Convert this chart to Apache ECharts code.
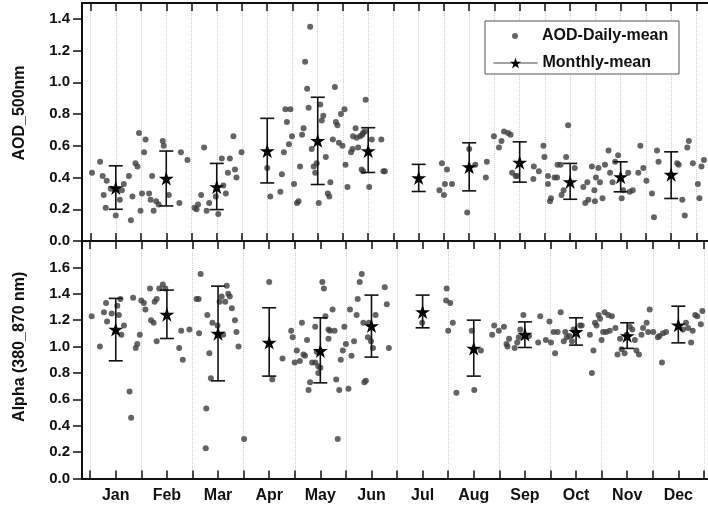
<!DOCTYPE html>
<html>
<head>
<meta charset="utf-8">
<style>
  html, body { margin: 0; padding: 0; background: #fff; }
  #chart { width: 708px; height: 511px; }
</style>
<script src="https://cdn.jsdelivr.net/npm/echarts@6.0.0/dist/echarts.min.js"></script>
</head>
<body>
<div id="chart"></div>
<script>
// month axis
const months = ['Jan', 'Feb', 'Mar', 'Apr', 'May', 'Jun', 'Jul', 'Aug', 'Sep', 'Oct', 'Nov', 'Dec'];
const monthPositions = [1, 2, 3, 4, 5, 6, 7, 8, 9, 10, 11, 12];
const monthTicks = [0.5, 1, 1.5, 2, 2.5, 3, 3.5, 4, 4.5, 5, 5.5, 6, 6.5, 7, 7.5, 8, 8.5, 9, 9.5, 10, 10.5, 11, 11.5, 12, 12.5];
const halfMonthTicks = [0.5, 1.5, 2.5, 3.5, 4.5, 5.5, 6.5, 7.5, 8.5, 9.5, 10.5, 11.5, 12.5];
const aodTicks = [0, 0.2, 0.4, 0.6, 0.8, 1.0, 1.2, 1.4];
const alphaTicks = [0, 0.2, 0.4, 0.6, 0.8, 1.0, 1.2, 1.4, 1.6];

// monthly mean and error bar ends
const aodMean = [0.335, 0.394, 0.341, 0.568, 0.632, 0.568, 0.398, 0.467, 0.495, 0.373, 0.404, 0.419];
const aodLow  = [0.200, 0.221, 0.198, 0.366, 0.356, 0.432, 0.312, 0.316, 0.371, 0.263, 0.310, 0.268];
const aodHigh = [0.474, 0.567, 0.489, 0.773, 0.906, 0.714, 0.483, 0.619, 0.625, 0.489, 0.499, 0.562];
const alphaMean = [1.130, 1.243, 1.099, 1.031, 0.968, 1.157, 1.263, 0.986, 1.092, 1.112, 1.081, 1.162];
const alphaLow  = [0.892, 1.061, 0.740, 0.776, 0.725, 0.920, 1.142, 0.776, 0.993, 1.011, 0.986, 1.028];
const alphaHigh = [1.365, 1.428, 1.458, 1.294, 1.218, 1.390, 1.390, 1.200, 1.187, 1.218, 1.180, 1.306];

// daily values: [month position, value]
const aodDaily = [
  [0.53,0.43],[0.69,0.50],[0.74,0.41],[0.82,0.38],[0.76,0.29],[0.80,0.21],[0.90,0.33],[1.08,0.26],[1.00,0.16],
  [1.16,0.36],[1.12,0.32],[1.26,0.41],[1.30,0.13],[1.33,0.28],[1.39,0.49],[1.43,0.47],[1.46,0.68],[1.59,0.64],
  [1.56,0.56],[1.49,0.19],[1.52,0.30],[1.66,0.30],[1.72,0.41],[1.69,0.26],[1.75,0.19],[1.80,0.25],[1.85,0.23],
  [1.93,0.63],[1.95,0.60],[2.05,0.29],[2.26,0.24],[2.29,0.56],[2.42,0.51],[2.56,0.21],[2.60,0.20],[2.63,0.23],
  [2.75,0.59],[2.69,0.29],[2.80,0.19],[2.85,0.24],[3.03,0.17],[2.98,0.28],[3.10,0.52],[3.13,0.35],[3.18,0.30],
  [3.22,0.43],[3.26,0.52],[3.33,0.66],[3.36,0.45],[3.39,0.40],[3.49,0.56],
  [4.00,0.46],[4.06,0.28],[4.26,0.31],[4.29,0.42],[4.33,0.56],[4.36,0.83],[4.46,0.83],[4.39,0.75],[4.43,0.61],
  [4.49,0.66],[4.53,0.36],[4.59,0.24],[4.62,0.25],[4.65,0.47],[4.69,0.67],[4.72,0.71],[4.75,1.13],[4.79,0.96],
  [4.82,0.84],[4.85,1.35],[4.88,0.58],[4.92,0.47],[4.95,0.43],[4.98,0.49],[5.02,0.24],[5.05,0.86],[5.11,0.79],
  [5.08,0.76],[5.16,0.53],[5.25,0.37],[5.20,0.30],[5.23,0.28],[5.34,0.97],[5.30,0.64],[5.36,0.75],[5.39,0.73],
  [5.42,0.62],[5.49,0.60],[5.46,0.80],[5.53,0.83],[5.55,0.48],[5.59,0.34],[5.66,0.56],[5.69,0.58],[5.75,0.71],
  [5.70,0.66],[5.77,0.65],[5.84,0.66],[5.88,0.67],[5.80,0.59],[5.90,0.68],[5.93,0.69],[5.95,0.89],[5.87,0.45],
  [5.90,0.44],[6.02,0.34],[6.07,0.64],[6.26,0.64],[6.30,0.44],[6.33,0.44],
  [7.41,0.32],[7.46,0.49],[7.50,0.29],[7.52,0.36],[7.56,0.45],[7.66,0.36],[7.96,0.18],[8.00,0.58],[8.12,0.48],
  [8.33,0.40],[8.35,0.50],[8.49,0.66],[8.59,0.59],[8.64,0.63],[8.69,0.69],[8.77,0.68],[8.82,0.67],[8.85,0.43],
  [8.92,0.41],[8.95,0.41],[9.28,0.47],[9.38,0.44],[9.27,0.39],[9.47,0.60],[9.49,0.53],[9.56,0.41],[9.56,0.36],
  [9.60,0.25],[9.62,0.27],[9.69,0.40],[9.74,0.40],[9.75,0.48],[9.81,0.48],[9.83,0.29],[9.87,0.32],[9.92,0.53],
  [9.96,0.73],[10.09,0.46],[10.26,0.34],[10.30,0.24],[10.34,0.37],[10.36,0.26],[10.43,0.47],[10.48,0.32],
  [10.49,0.25],[10.51,0.40],[10.56,0.46],[10.59,0.37],[10.64,0.27],[10.69,0.48],[10.76,0.57],[10.79,0.43],
  [10.84,0.37],[10.89,0.50],[10.95,0.54],[11.02,0.27],[11.05,0.32],[11.15,0.43],[11.18,0.31],[11.24,0.32],
  [11.35,0.43],[11.39,0.60],[11.45,0.46],[11.51,0.38],[11.62,0.30],[11.66,0.15],[11.72,0.57],[11.75,0.50],
  [12.12,0.49],[12.15,0.48],[12.22,0.26],[12.27,0.16],[12.32,0.59],[12.35,0.63],[12.43,0.49],[12.53,0.36],
  [12.56,0.27],[12.60,0.47],[12.65,0.51]
];
const alphaDaily = [
  [0.53,1.23],[0.69,1.00],[0.77,1.26],[0.81,1.33],[0.83,1.19],[0.92,1.25],[1.03,1.31],[1.06,1.24],[1.09,1.36],
  [1.11,1.09],[1.16,1.16],[1.27,0.66],[1.30,0.46],[1.34,1.37],[1.39,0.99],[1.42,1.02],[1.47,1.09],[1.50,1.35],
  [1.55,1.33],[1.58,1.28],[1.67,1.44],[1.69,1.20],[1.74,1.18],[1.76,1.34],[1.80,1.36],[1.80,1.04],[1.85,1.44],
  [1.92,1.47],[1.97,1.44],[2.24,0.99],[2.28,1.12],[2.31,0.90],[2.44,1.13],[2.58,1.36],[2.62,1.36],[2.63,1.10],
  [2.66,1.55],[2.77,0.53],[2.79,1.24],[2.83,0.95],[2.86,0.76],[2.89,1.18],[2.76,0.23],[3.03,1.34],[3.07,1.38],
  [3.10,1.09],[3.14,1.34],[3.17,1.46],[3.20,1.40],[3.23,1.38],[3.27,1.29],[3.33,1.20],[3.36,1.11],[3.40,1.00],
  [3.51,0.30],[2.99,1.16],
  [4.00,1.49],[4.06,0.75],[4.26,0.91],[4.43,1.12],[4.46,1.07],[4.50,0.88],[4.60,0.89],[4.54,0.97],[4.64,1.18],
  [4.67,0.94],[4.70,0.93],[4.74,1.05],[4.77,0.67],[4.80,0.73],[4.84,0.88],[4.90,1.15],[4.90,0.88],[4.93,0.96],
  [4.96,0.80],[4.96,0.85],[5.00,0.84],[5.04,1.49],[5.07,1.44],[5.10,1.23],[5.16,1.13],[5.19,1.12],[5.24,1.28],
  [5.28,1.12],[5.16,1.06],[5.31,0.75],[5.34,0.30],[5.37,0.67],[5.40,0.90],[5.44,0.97],[5.47,1.15],[5.50,1.02],
  [5.55,0.68],[5.58,1.28],[5.61,0.93],[5.66,1.04],[5.71,1.24],[5.73,1.36],[5.77,1.49],[5.81,1.55],[5.86,0.73],
  [5.89,0.74],[5.84,1.18],[5.93,1.07],[5.95,1.18],[5.99,1.04],[6.03,0.99],[6.08,1.24],[6.26,1.45],[6.30,1.32],
  [6.34,0.99],[6.99,1.18],[7.47,1.44],[7.46,1.35],[7.54,1.33],[7.59,1.18],[7.50,1.12],[7.66,0.65],[7.96,1.12],
  [8.01,0.67],[8.14,0.97],
  [8.36,1.09],[8.40,1.16],[8.49,1.12],[8.59,1.15],[8.64,1.02],[8.69,1.06],[8.66,1.00],[8.80,0.99],[8.85,1.03],
  [8.88,1.07],[8.91,1.13],[8.97,1.24],[9.08,1.08],[9.26,1.03],[9.30,1.23],[9.41,1.05],[9.48,1.19],[9.51,1.03],
  [9.59,0.95],[9.56,1.11],[9.64,1.11],[9.70,1.26],[9.76,1.04],[9.79,1.11],[9.82,1.07],[9.87,1.08],[9.92,1.04],
  [9.95,1.13],[10.08,1.16],[10.11,1.16],[10.27,1.09],[10.31,0.80],[10.34,0.97],[10.37,1.18],[10.40,1.16],
  [10.44,1.24],[10.47,1.21],[10.50,1.05],[10.53,1.11],[10.56,1.26],[10.59,1.11],[10.63,1.24],[10.66,1.12],
  [10.70,1.23],[10.77,1.14],[10.81,0.94],[10.86,1.06],[10.89,0.98],[10.95,0.95],[10.99,1.09],[11.05,1.15],
  [11.10,1.13],[11.15,1.05],[11.18,0.97],[11.23,0.94],[11.28,1.09],[11.31,1.14],[11.38,1.18],[11.41,1.11],
  [11.44,1.28],[11.51,1.11],[11.60,1.07],[11.63,1.08],[11.70,1.10],[11.76,1.11],[11.68,0.88],[12.09,1.13],
  [12.15,1.18],[12.19,1.14],[12.25,1.03],[12.28,1.12],[12.33,1.24],[12.37,1.23],[12.44,1.17],[12.47,1.27]
];

const FONT = "'Liberation Sans', Arial, sans-serif";
const STAR = 'path://M50,0L61.17,34.63L97.55,34.55L68.07,55.87L79.39,90.45L50,69L20.61,90.45L31.93,55.87L2.45,34.55L38.83,34.63Z';

const chart = echarts.init(document.getElementById('chart'), null, { renderer: 'canvas' });

function frameX(gridIndex, position, range, extra) {
    return Object.assign({
        type: 'value',
        gridIndex: gridIndex,
        position: position,
        min: range[0],
        max: range[1],
        axisLine: { show: true, onZero: false, lineStyle: { color: '#111', width: 2 } },
        axisTick: { show: true, inside: true, length: 8, customValues: monthTicks, lineStyle: { color: '#111', width: 1.5 } },
        axisLabel: { show: false },
        splitLine: { show: false }
    }, extra || {});
}

function leftY(gridIndex, max, ticks, name, shift) {
    return {
        type: 'value',
        gridIndex: gridIndex,
        min: 0,
        max: max,
        name: name,
        nameLocation: 'middle',
        nameGap: 54,
        nameTextStyle: { fontFamily: FONT, fontWeight: 'bold', fontSize: 16, color: '#111', padding: [0, 0, 0, shift] },
        axisLine: { show: true, lineStyle: { color: '#111', width: 2 } },
        axisTick: { show: true, inside: false, length: 9, customValues: ticks, lineStyle: { color: '#111', width: 1.5 } },
        axisLabel: {
            customValues: ticks, margin: 12,
            fontFamily: FONT, fontWeight: 'bold', fontSize: 15, color: '#111',
            formatter: v => v.toFixed(1)
        },
        splitLine: { show: false }
    };
}

// top panel is scanned slightly narrower than the bottom one
const topRange = [0.331, 12.73];
const botRange = [0.34, 12.58];
const gridLine = { show: true, lineStyle: { color: '#cfcfcf', type: 'dotted', width: 1 } };

function errorBars(lo, hi) {
    return monthPositions.map((m, i) => [m, lo[i], hi[i]]);
}

function renderErrorBar(params, api) {
    const x = api.value(0);
    const pLo = api.coord([x, api.value(1)]);
    const pHi = api.coord([x, api.value(2)]);
    const cap = 7;
    const style = { stroke: '#111', lineWidth: 1.6, fill: null };
    return {
        type: 'group',
        children: [
            { type: 'line', shape: { x1: pLo[0], y1: pLo[1], x2: pHi[0], y2: pHi[1] }, style: style },
            { type: 'line', shape: { x1: pLo[0] - cap, y1: pLo[1], x2: pLo[0] + cap, y2: pLo[1] }, style: style },
            { type: 'line', shape: { x1: pHi[0] - cap, y1: pHi[1], x2: pHi[0] + cap, y2: pHi[1] }, style: style }
        ]
    };
}

const legendText = { fontFamily: FONT, fontWeight: 'bold', fontSize: 16, color: '#111' };

const option = {
    animation: false,
    backgroundColor: '#fff',
    grid: [
        { left: 82, right: -4, top: 3, height: 238 },
        { left: 82, right: -4, top: 241, height: 237.5 }
    ],
    xAxis: [
        frameX(0, 'bottom', topRange, { splitLine: gridLine }),
        frameX(0, 'top', topRange),
        frameX(1, 'bottom', botRange, {
            axisLabel: {
                show: true, customValues: monthPositions, margin: 9,
                fontFamily: FONT, fontWeight: 'bold', fontSize: 16, color: '#111',
                formatter: v => months[Math.round(v) - 1]
            }
        }),
        frameX(1, 'top', botRange),
        // bottom panel grid lines only between months
        {
            type: 'value', gridIndex: 1, position: 'bottom', min: botRange[0], max: botRange[1],
            axisLine: { show: false },
            axisTick: { show: false, customValues: halfMonthTicks },
            axisLabel: { show: false },
            splitLine: gridLine
        }
    ],
    yAxis: [
        leftY(0, 1.5, aodTicks, 'AOD_500nm', 18),
        leftY(1, 1.8, alphaTicks, 'Alpha (380_870 nm)', 26)
    ],
    legend: [
        {
            data: [{ name: 'AOD-Daily-mean', icon: 'circle' }],
            left: 512, top: 28, padding: 0, align: 'left',
            itemWidth: 44, itemHeight: 6,
            textStyle: legendText,
            z: 10
        },
        {
            data: ['Monthly-mean'],
            left: 493, top: 55, padding: 0, align: 'left',
            itemWidth: 44, itemHeight: 14,
            lineStyle: { color: '#444', width: 1, opacity: 1 },
            textStyle: legendText,
            z: 10
        }
    ],
    graphic: [
        {
            type: 'rect', z: 3,
            shape: { x: 485, y: 21, width: 194, height: 53 },
            style: { fill: '#fff', stroke: '#555', lineWidth: 1 }
        }
    ],
    series: [
        {
            name: 'AOD-Daily-mean', type: 'scatter', xAxisIndex: 0, yAxisIndex: 0,
            data: aodDaily, symbolSize: 6, itemStyle: { color: '#3d3d3d' }, z: 2
        },
        {
            name: 'AOD-Daily-mean', type: 'scatter', xAxisIndex: 2, yAxisIndex: 1,
            data: alphaDaily, symbolSize: 6, itemStyle: { color: '#3d3d3d' }, z: 2
        },
        {
            name: 'aodErr', type: 'custom', xAxisIndex: 0, yAxisIndex: 0,
            data: errorBars(aodLow, aodHigh), encode: { x: 0, y: [1, 2] },
            renderItem: renderErrorBar, z: 4
        },
        {
            name: 'alphaErr', type: 'custom', xAxisIndex: 2, yAxisIndex: 1,
            data: errorBars(alphaLow, alphaHigh), encode: { x: 0, y: [1, 2] },
            renderItem: renderErrorBar, z: 4
        },
        {
            name: 'Monthly-mean', type: 'line', xAxisIndex: 0, yAxisIndex: 0,
            data: monthPositions.map((m, i) => [m, aodMean[i]]),
            symbol: STAR, symbolSize: 15, symbolKeepAspect: true,
            itemStyle: { color: '#000' }, lineStyle: { opacity: 0 }, z: 5
        },
        {
            name: 'Monthly-mean', type: 'line', xAxisIndex: 2, yAxisIndex: 1,
            data: monthPositions.map((m, i) => [m, alphaMean[i]]),
            symbol: STAR, symbolSize: 15, symbolKeepAspect: true,
            itemStyle: { color: '#000' }, lineStyle: { opacity: 0 }, z: 5
        }
    ]
};

chart.setOption(option);
window.addEventListener('resize', () => chart.resize());
</script>
</body>
</html>
